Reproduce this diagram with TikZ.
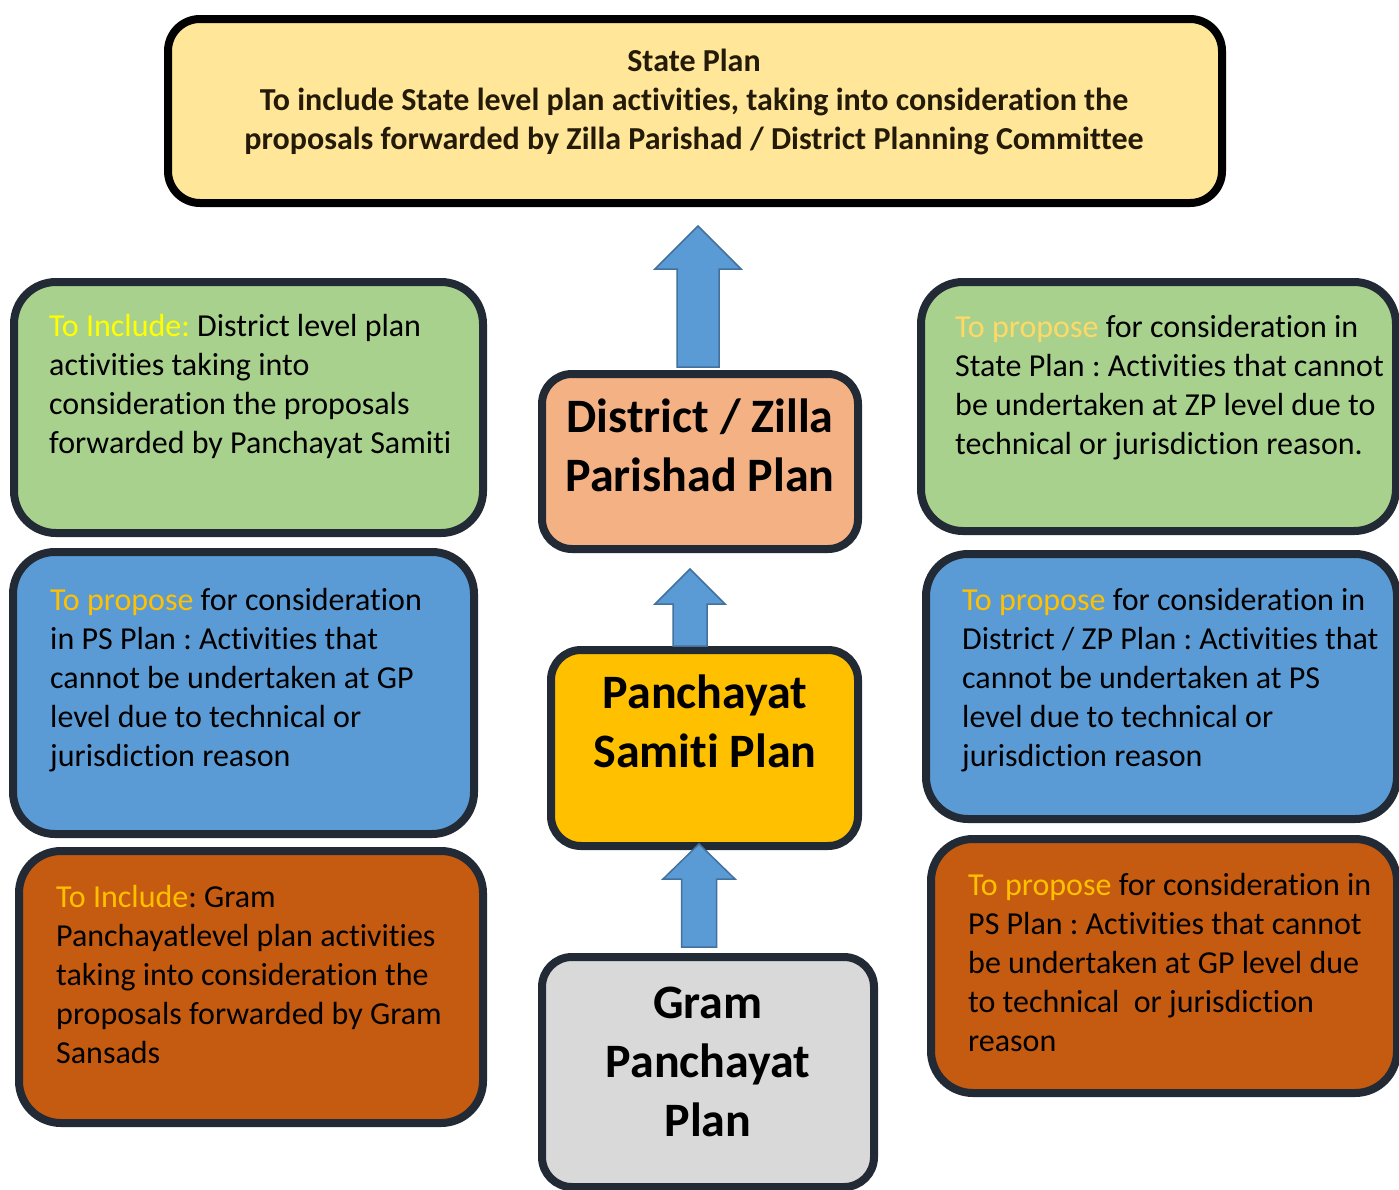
\documentclass[tikz,border=0pt]{standalone}
\usepackage{fontspec}
\setmainfont{Carlito}[RawFeature={-liga;-clig;-calt;-dlig}]
\usetikzlibrary{calc}

\definecolor{edgedark}{HTML}{222A35}
\definecolor{statefill}{HTML}{FFE699}
\definecolor{statetext}{HTML}{231A08}
\definecolor{greenfill}{HTML}{A9D18E}
\definecolor{bluefill}{HTML}{5B9BD5}
\definecolor{rustfill}{HTML}{C55A11}
\definecolor{peachfill}{HTML}{F4B183}
\definecolor{goldfill}{HTML}{FFC000}
\definecolor{greyfill}{HTML}{D9D9D9}
\definecolor{arrowedge}{HTML}{41719C}
\definecolor{hlyellow}{HTML}{FFFF00}
\definecolor{hllight}{HTML}{FFD966}
\definecolor{hlgold}{HTML}{FFC000}

\frenchspacing

% stacked lines whose baseline is the baseline of the first line
\newcommand{\leftlines}[1]{\vtop{\halign{##\hfil\cr#1\crcr}}}
\newcommand{\centerlines}[1]{\vtop{\halign{\hfil##\hfil\cr#1\crcr}}}

% block arrow from a tail point to a tip point
\newcommand{\blockarrow}[5]{%
  \draw[blockarrowstyle] ($(#1)+(-#3,0)$) -- ($(#2)+(-#3,#5)$) -- ($(#2)+(-#4,#5)$)
    -- (#2) -- ($(#2)+(#4,#5)$) -- ($(#2)+(#3,#5)$) -- ($(#1)+(#3,0)$) -- cycle;}

\tikzset{
  sidebox/.style={draw=edgedark, line width=8pt, rounded corners=42pt, inner sep=0pt},
  planbox/.style={draw=edgedark, line width=8pt, rounded corners=30pt, inner sep=0pt},
  statebox/.style={draw=black, line width=8pt, rounded corners=32pt, fill=statefill, inner sep=0pt},
  sidetext/.style={anchor=base west, inner sep=0pt, font=\fontsize{32}{39}\selectfont},
  plantext/.style={anchor=base, inner sep=0pt, font=\fontsize{48}{59}\selectfont\bfseries},
  statetextstyle/.style={anchor=base, inner sep=0pt, text=statetext, font=\fontsize{32}{39}\selectfont\bfseries},
  blockarrowstyle/.style={fill=bluefill, draw=arrowedge, line width=1.5pt, line join=miter}
}

\begin{document}
\begin{tikzpicture}[x=1pt, y=-1pt]
\useasboundingbox (0,0) rectangle (1399,1189);
\clip (0,0) rectangle (1399,1189);
\fill[white] (0,0) rectangle (1399,1189);

% top level
\node[statebox, minimum width=1054pt, minimum height=184pt] (state) at (695,111) {};
\node[statetextstyle] (statetxt) at (694,71) {\centerlines{State Plan\cr
To include State level plan activities, taking into consideration the\cr
proposals forwarded by Zilla Parishad / District Planning Committee}};

% central chain of plans
\node[planbox, fill=peachfill, minimum width=316pt, minimum height=175pt] (dist) at (700,461.5) {};
\node[plantext] (disttxt) at (700,432) {\centerlines{District / Zilla\cr Parishad Plan}};

\node[planbox, fill=goldfill, minimum width=307pt, minimum height=196pt] (ps) at (704.5,748) {};
\node[plantext] (pstxt) at (705,708) {\centerlines{Panchayat\cr Samiti Plan}};

\node[planbox, fill=greyfill, minimum width=332pt, minimum height=230pt] (gp) at (708,1072) {};
\node[plantext] (gptxt) at (708,1018) {\centerlines{Gram\cr Panchayat\cr Plan}};

% left column
\node[sidebox, fill=greenfill, minimum width=469pt, minimum height=251pt] (lgreen) at (248.5,407.5) {};
\node[sidetext] (lgreentxt) at (49,336) {\leftlines{\textcolor{hlyellow}{To Include:} District level plan\cr
activities taking into\cr
consideration the proposals\cr
forwarded by Panchayat Samiti}};

\node[sidebox, fill=bluefill, minimum width=461pt, minimum height=282pt] (lblue) at (243.5,693) {};
\node[sidetext] (lbluetxt) at (50,610) {\leftlines{\textcolor{hlgold}{To propose} for consideration\cr
in PS Plan : Activities that\cr
cannot be undertaken at GP\cr
level due to technical or\cr
jurisdiction reason}};

\node[sidebox, fill=rustfill, minimum width=464pt, minimum height=272pt] (lrust) at (251,987) {};
\node[sidetext] (lrusttxt) at (56,907) {\leftlines{\textcolor{hlgold}{To Include}: Gram\cr
Panchayatlevel plan activities\cr
taking into consideration the\cr
proposals forwarded by Gram\cr
Sansads}};

% right column
\node[sidebox, fill=greenfill, minimum width=475pt, minimum height=249pt] (rgreen) at (1158.5,406.5) {};
\node[sidetext] (rgreentxt) at (955,337) {\leftlines{\textcolor{hllight}{To propose} for consideration in\cr
State Plan : Activities that cannot\cr
be undertaken at ZP level due to\cr
technical or jurisdiction reason.}};

\node[sidebox, fill=bluefill, minimum width=471pt, minimum height=265pt] (rblue) at (1161.5,686.5) {};
\node[sidetext] (rbluetxt) at (962,610) {\leftlines{\textcolor{hlgold}{To propose} for consideration in\cr
District / ZP Plan : Activities that\cr
cannot be undertaken at PS\cr
level due to technical or\cr
jurisdiction reason}};

\node[sidebox, fill=rustfill, minimum width=466pt, minimum height=254pt] (rrust) at (1164,966) {};
\node[sidetext] (rrusttxt) at (968,895) {\leftlines{\textcolor{hlgold}{To propose} for consideration in\cr
PS Plan : Activities that cannot\cr
be undertaken at GP level due\cr
to technical\ \ or jurisdiction\cr
reason}};

% upward block arrows between the plans
\coordinate (a1tail) at ($(dist.north)+(-2,-3)$);
\coordinate (a1tip) at ($(a1tail |- state.south)+(0,19)$);
\blockarrow{a1tail}{a1tip}{21}{43}{43}

\coordinate (a2tail) at ($(ps.north)+(-14.5,0)$);
\coordinate (a2tip) at ($(a2tail |- dist.south)+(0,16)$);
\blockarrow{a2tail}{a2tip}{17}{35}{35}

\coordinate (a3tail) at ($(gp.north)+(-9,-6)$);
\coordinate (a3tip) at ($(a3tail |- ps.south)+(0,-6)$);
\blockarrow{a3tail}{a3tip}{17.5}{36}{35}
\end{tikzpicture}
\end{document}
